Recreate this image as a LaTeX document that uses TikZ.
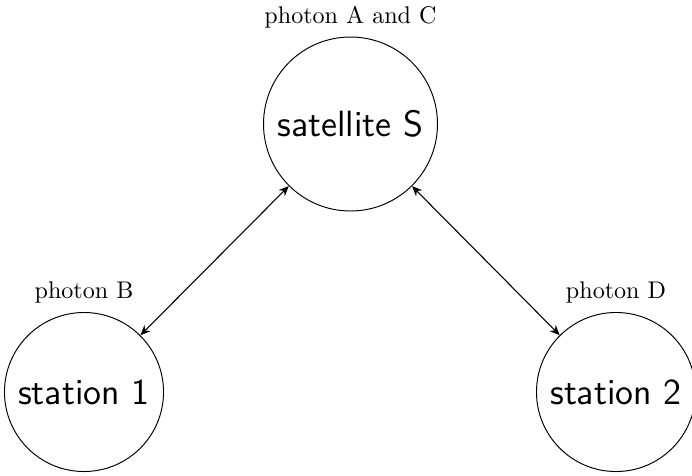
\documentclass[tikz,border=0pt]{standalone}
\usetikzlibrary{arrows.meta}
\begin{document}
\begin{tikzpicture}[x=0.415pt,y=0.415pt,
  body/.style={draw,circle,line width=0.4pt,inner sep=0pt,
    font=\fontsize{15.2}{18}\selectfont\sffamily},
  sat/.style={body,minimum size=72.2pt},
  stat/.style={body,minimum size=66pt},
  tag/.style={font=\normalsize,inner sep=3.33pt},
  link/.style={line width=0.45pt,{Stealth[length=4.2pt,width=3.6pt,inset=1.4pt]}-{Stealth[length=4.2pt,width=3.6pt,inset=1.4pt]}}]
\useasboundingbox (0,0) rectangle (692,475);
\node[sat] (s) at (350.5,351) {satellite S};
\node[stat] (a) at (84,83) {station 1};
\node[stat] (b) at (616,83) {station 2};
\node[tag,anchor=south] (ls) at (s.north) {photon A and C};
\node[tag,anchor=south] (la) at (a.north) {photon B};
\node[tag,anchor=south] (lb) at (b.north) {photon D};
\draw[link] (s) -- (a);
\draw[link] (s) -- (b);
\end{tikzpicture}
\end{document}
